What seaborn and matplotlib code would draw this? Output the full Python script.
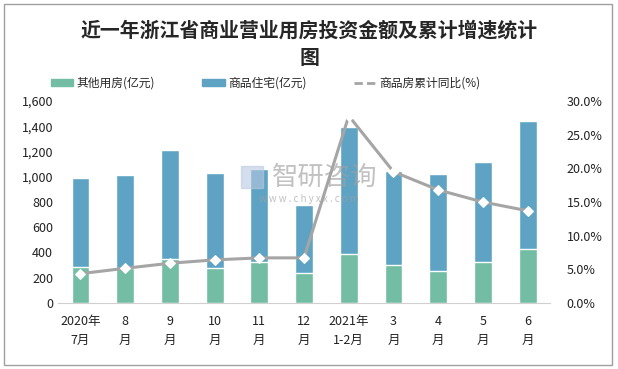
import numpy as np
import pandas as pd
import matplotlib
matplotlib.use("Agg")
import matplotlib.pyplot as plt
import seaborn as sns
from matplotlib.lines import Line2D
from matplotlib.patches import Patch, Rectangle

# data
months = ["2020年\n7月", "8\n月", "9\n月", "10\n月", "11\n月", "12\n月",
          "2021年\n1-2月", "3\n月", "4\n月", "5\n月", "6\n月"]
other_use = [285, 275, 348, 280, 327, 238, 388, 301, 253, 325, 425]
residential = [705, 739, 864, 750, 734, 538, 1006, 744, 769, 792, 1016]
growth_pct = [4.35, 5.15, 5.9, 6.4, 6.7, 6.7, 27.8, 19.5, 16.8, 15.0, 13.7]

GREEN = "#72BDA3"
BLUE = "#5FA3C4"
GRAY = "#A5A5A5"

sns.set_style("white")
plt.rcParams["font.family"] = ["Noto Sans CJK SC", "DejaVu Sans"]

df = pd.DataFrame({
    "month": months,
    "other": other_use,
    "total": np.array(other_use) + np.array(residential),
    "growth": growth_pct,
})

fig = plt.figure(figsize=(6.18, 3.69), dpi=100)
ax = fig.add_axes([0.094, 0.179, 0.796, 0.547])

sns.barplot(data=df, x="month", y="total", color=BLUE, width=0.4,
            saturation=1, ax=ax)
sns.barplot(data=df, x="month", y="other", color=GREEN, width=0.4,
            saturation=1, ax=ax)

ax.set_xlim(-0.5, len(months) - 0.5)
ax.set_ylim(0, 1600)
ax.set_yticks(range(0, 1601, 200))
ax.set_yticklabels([f"{v:,}" for v in range(0, 1601, 200)])
ax.set_xlabel("")
ax.set_ylabel("")
for s in ["top", "right", "left"]:
    ax.spines[s].set_visible(False)
ax.spines["bottom"].set_color("#D0D0D0")
ax.tick_params(axis="both", length=0, labelsize=9, colors="#222222")
ax.tick_params(axis="x", pad=9)
for lbl in ax.get_xticklabels():
    lbl.set_linespacing(1.55)

ax2 = ax.twinx()
sns.lineplot(x=np.arange(len(months)), y=df["growth"], color=GRAY, lw=2.2,
             marker="D", markersize=5, markerfacecolor="white",
             markeredgecolor="white", ax=ax2)
ax2.set_ylim(0, 30)
ax2.set_yticks(range(0, 31, 5))
ax2.set_yticklabels([f"{v:.1f}%" for v in range(0, 31, 5)])
ax2.set_ylabel("")
for s in ["top", "right", "left", "bottom"]:
    ax2.spines[s].set_visible(False)
ax2.tick_params(axis="y", length=0, labelsize=9, colors="#222222", pad=12)

# watermark
fig.text(0.44, 0.52, "智研咨询", fontsize=19, color="#A0A0A0", alpha=0.65,
         ha="left", va="center")
fig.text(0.5, 0.462, "w w w . c h y x x . c o m", fontsize=7,
         color="#A0A0A0", alpha=0.65, ha="center", va="center")
fig.patches.append(Rectangle((0.39, 0.49), 0.036, 0.06,
                             transform=fig.transFigure,
                             color="#B9C8E0", alpha=0.6))

fig.text(0.5, 0.918, "近一年浙江省商业营业用房投资金额及累计增速统计", fontsize=14.3,
         fontweight="bold", ha="center", va="center")
fig.text(0.5, 0.845, "图", fontsize=14.3, fontweight="bold",
         ha="center", va="center")

handles = [
    Patch(color=GREEN, label="其他用房(亿元)"),
    Patch(color=BLUE, label="商品住宅(亿元)"),
    Line2D([0], [0], color=GRAY, lw=2, ls=(0, (3, 1.5)), label="商品房累计同比(%)"),
]
fig.legend(handles=handles, loc="center left", ncol=3,
           bbox_to_anchor=(0.065, 0.755, 0.73, 0.04), mode="expand",
           frameon=False, fontsize=8.5, handlelength=1.9, handleheight=0.5,
           handletextpad=0.25)

fig.patches.append(Rectangle((0.006, 0.01), 0.985, 0.98,
                             transform=fig.transFigure, fill=False,
                             edgecolor="#A0A0A0", lw=1))

fig.savefig("out.png", dpi=100)
